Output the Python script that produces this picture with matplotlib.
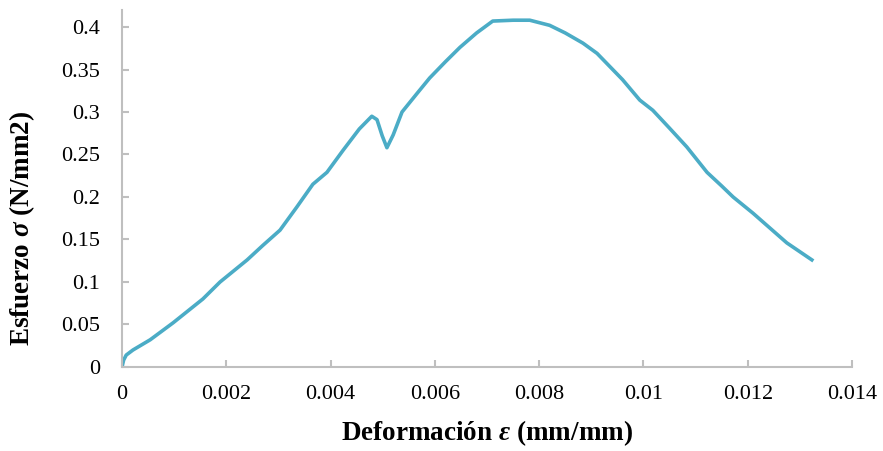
import matplotlib.pyplot as plt
from matplotlib.ticker import FuncFormatter

# datos
strain = [0, 0.00003, 0.00008, 0.00021, 0.00054, 0.00098, 0.00155, 0.00188,
          0.0024, 0.0027, 0.00303, 0.00335, 0.00366, 0.00393, 0.00424,
          0.00455, 0.00479, 0.00489, 0.00499, 0.00508, 0.0052, 0.00537,
          0.00566, 0.0059, 0.0062, 0.00648, 0.0068, 0.00711, 0.0075,
          0.00782, 0.0082, 0.0085, 0.00884, 0.00911, 0.0096, 0.00993,
          0.01018, 0.0105, 0.01083, 0.01122, 0.0115, 0.01172, 0.0121,
          0.01275, 0.01323]
stress = [0, 0.008, 0.014, 0.020, 0.032, 0.052, 0.080, 0.100,
          0.126, 0.143, 0.161, 0.188, 0.215, 0.229, 0.255,
          0.280, 0.295, 0.291, 0.272, 0.258, 0.273, 0.300,
          0.322, 0.340, 0.359, 0.376, 0.393, 0.407, 0.408,
          0.408, 0.402, 0.393, 0.381, 0.369, 0.338, 0.314,
          0.302, 0.281, 0.259, 0.229, 0.213, 0.200, 0.181,
          0.146, 0.126]

x_ticks = [0, 0.002, 0.004, 0.006, 0.008, 0.01, 0.012, 0.014]
y_ticks = [0, 0.05, 0.1, 0.15, 0.2, 0.25, 0.3, 0.35, 0.4]

plt.rcParams['font.family'] = ['Liberation Serif', 'DejaVu Serif']
plt.rcParams['mathtext.fontset'] = 'custom'
plt.rcParams['mathtext.it'] = 'Liberation Serif:italic:bold'
plt.rcParams['mathtext.rm'] = 'Liberation Serif:bold'

fig = plt.figure(figsize=(8.83, 4.51), dpi=100)
ax = fig.add_axes([0.1382, 0.1863, 0.8267, 0.7915])

ax.plot(strain, stress, color="#4BACC6", linewidth=2.6, solid_joinstyle="round")

ax.set_xlim(0, 0.014)
ax.set_ylim(0, 0.42)
ax.set_xticks(x_ticks)
ax.set_yticks(y_ticks)
fmt = FuncFormatter(lambda v, p: "%g" % round(v, 4))
ax.xaxis.set_major_formatter(fmt)
ax.yaxis.set_major_formatter(fmt)

for s in ["top", "right"]:
    ax.spines[s].set_visible(False)
for s in ["left", "bottom"]:
    ax.spines[s].set_color("#BFBFBF")
    ax.spines[s].set_linewidth(1.5)

ax.tick_params(axis="both", direction="in", length=5, width=1.5,
               color="#BFBFBF", labelsize=16, labelcolor="black")
ax.tick_params(axis="y", pad=16)
ax.tick_params(axis="x", pad=13)

ax.set_xlabel(r"Deformación $\varepsilon$ (mm/mm)", fontsize=19.5,
              fontweight="bold")
ax.set_ylabel(r"Esfuerzo $\sigma$ (N/mm2)", fontsize=19.5,
              fontweight="bold")
ax.xaxis.set_label_coords(0.5, -0.145)
ax.yaxis.set_label_coords(-0.116, 0.389)

fig.savefig("out.png", dpi=100)
